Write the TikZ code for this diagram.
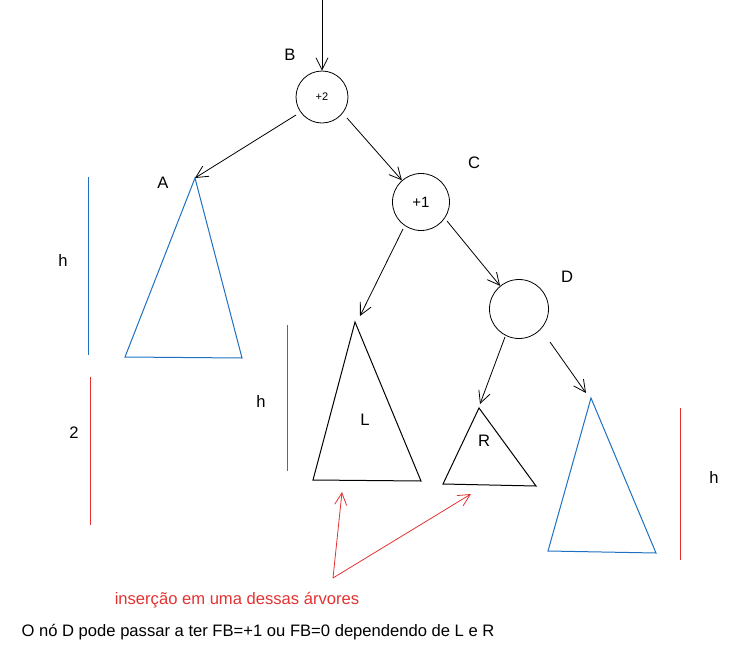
\documentclass[tikz,border=0pt]{standalone}
\usepackage{fontspec}
\setmainfont{Liberation Sans}
\usetikzlibrary{arrows.meta}
\definecolor{tblue}{RGB}{31,112,193}
\definecolor{tred}{RGB}{228,50,50}
\begin{document}
\begin{tikzpicture}[x=1pt,y=-1pt,
  arr/.style={-{Straight Barb[length=12pt,width=12pt]}, line width=0.8pt},
  nd/.style={circle,draw,line width=0.8pt,inner sep=0pt},
  lbl/.style={font=\fontsize{16.6}{16.6}\selectfont},
  tri/.style={line width=1pt},
  hline/.style={line width=1pt}]
\useasboundingbox (0,0) rectangle (732,646);
% nodes
\node[nd,minimum size=52pt,font=\fontsize{11}{11}\selectfont] (B) at (322,97) {+2};
\node[nd,minimum size=57pt,font=\fontsize{15}{15}\selectfont] (C) at (421,202) {+1};
\node[nd,minimum size=59pt] (D) at (519,309) {};
\node[lbl] (lB) at (290,55) {B};
\node[lbl] (lC) at (474,163) {C};
\node[lbl] (lD) at (567,277) {D};
\node[lbl] (lA) at (163,183) {A};
\coordinate (top) at (322,0);
% triangles
\coordinate (Atop) at (195,178);
\draw[tri,tblue] (Atop) -- (125,357) -- (242,358) -- cycle;
\coordinate (Ltop) at (355,322);
\draw[tri] (Ltop) -- (313,480) -- (421,481) -- cycle;
\node[lbl] (lL) at (365,420) {L};
\coordinate (Rtop) at (479,408);
\draw[tri] (Rtop) -- (443,484) -- (536,486) -- cycle;
\node[lbl] (lR) at (484,441) {R};
\coordinate (Ttop) at (591,398);
\draw[tri,tblue] (Ttop) -- (548,551) -- (656,553) -- cycle;
% arrows
\draw[arr] (top) -- (B);
\coordinate (B1) at (296,115);
\coordinate (B2) at (347,118);
\draw[arr] (B1) -- (Atop);
\draw[arr] (B2) -- (C);
\coordinate (C1) at (403,229);
\coordinate (C2) at (447,221);
\draw[arr] (C1) -- (360,316);
\draw[arr] (C2) -- (D);
\coordinate (D1) at (505,337);
\coordinate (D2) at (550,342);
\draw[arr] (D1) -- (480,404);
\draw[arr] (D2) -- (586,393);
% height bars
\draw[hline,tblue] (88,177) -- (88,355);
\node[lbl] (h1) at (63,260) {h};
\draw[hline,tred] (90,377) -- (90,525);
\node[lbl] (two) at (74,433) {2};
\draw[hline,tred] (287,325) -- (287,471);
\node[lbl] (h2) at (261,401) {h};
\draw[hline,tred] (680,408) -- (680,560);
\node[lbl] (h3) at (714,477) {h};
% red arrows
\coordinate (ins) at (333,578);
\coordinate (insL) at (342,492);
\coordinate (insR) at (471,494);
\draw[arr,tred] (ins) -- (insL);
\draw[arr,tred] (ins) -- (insR);
\node[lbl,tred] (txt1) at (237,600) {inserção em uma dessas árvores};
\node[lbl,anchor=west] (txt2) at (18,632) {O nó D pode passar a ter FB=+1 ou FB=0 dependendo de L e R};
\end{tikzpicture}
\end{document}
